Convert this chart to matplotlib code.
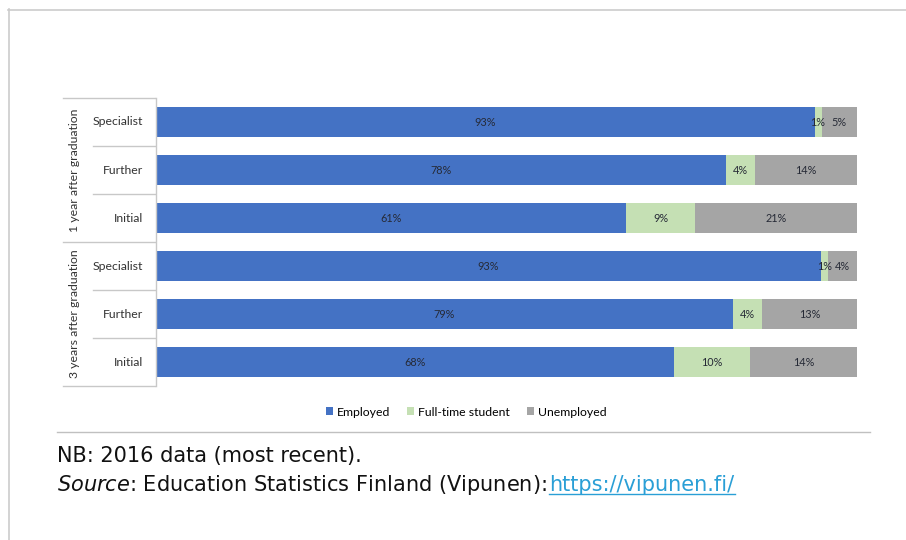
import numpy as np
import matplotlib.pyplot as plt
from matplotlib.lines import Line2D
from matplotlib.patches import Patch

# employment status of graduates, Finland 2016 (%), top row first
groups = ["1 year after graduation", "3 years after graduation"]
levels = ["Specialist", "Further", "Initial"]
employed = [93, 78, 61, 93, 79, 68]
student = [1, 4, 9, 1, 4, 10]
unemployed = [5, 14, 21, 4, 13, 14]

series = [("Employed", employed, "#4472C4"),
          ("Full-time student", student, "#C5E0B4"),
          ("Unemployed", unemployed, "#A5A5A5")]

W, H = 906, 540
fig = plt.figure(figsize=(W / 100, H / 100), dpi=100)

def fx(px):
    return px / W

def fy(py):
    return 1 - py / H

ax = fig.add_axes([fx(156), fy(386), fx(857) - fx(156), fy(98) - fy(386)])

n = len(employed)
ypos = np.arange(n)
totals = np.array(employed) + np.array(student) + np.array(unemployed)
left = np.zeros(n)
for name, vals, col in series:
    share = np.array(vals) / totals
    ax.barh(ypos, share, left=left, height=0.62, color=col, label=name)
    for y, l, s, v in zip(ypos, left, share, vals):
        ax.text(l + s / 2, y, f"{v}%", ha="center", va="center",
                fontsize=7.8, color="#262a36", family="Lato")
    left += share

ax.set_xlim(0, 1)
ax.set_ylim(n - 0.5, -0.5)
ax.set_xticks([])
ax.set_yticks([])
for s in ax.spines.values():
    s.set_visible(False)

# category table on the left
lc = "#c8c8c8"
fig.add_artist(Line2D([fx(155.5)] * 2, [fy(98), fy(386)], color=lc, lw=1))
fig.add_artist(Line2D([fx(63), fx(155)], [fy(98)] * 2, color=lc, lw=1))
fig.add_artist(Line2D([fx(63), fx(155)], [fy(242)] * 2, color=lc, lw=1))
fig.add_artist(Line2D([fx(63), fx(155)], [fy(386)] * 2, color=lc, lw=1))
for i in range(n):
    if i % 3 != 0:
        yb = 98 + 48 * i
        fig.add_artist(Line2D([fx(93), fx(155)], [fy(yb)] * 2, color=lc, lw=1))
    fig.text(fx(143), fy(122 + 48 * i), levels[i % 3], ha="right", va="center",
             fontsize=8.8, family="Lato", color="#333333")
for g, name in enumerate(groups):
    fig.text(fx(75), fy(170 + 144 * g), name, rotation=90, ha="center",
             va="center", fontsize=8.8, family="Lato", color="#333333")

handles = [Patch(facecolor=c, edgecolor="none") for _, _, c in series]
fig.legend(handles, [s[0] for s in series], loc="center",
           bbox_to_anchor=(fx(466), fy(412)), ncol=3, frameon=False,
           handlelength=0.6, handleheight=0.6, handletextpad=0.3,
           columnspacing=1.4, prop={"family": "Lato", "size": 8.8})

# page frame and separator
fig.add_artist(Line2D([fx(8), 1], [fy(9.5)] * 2, color="#cccccc", lw=1.2))
fig.add_artist(Line2D([fx(8.5)] * 2, [0, fy(9)], color="#cccccc", lw=1.2))
fig.add_artist(Line2D([fx(57), fx(870)], [fy(432)] * 2, color="#c0c0c0", lw=1))

fs = 15
fig.text(fx(57), fy(456), "NB: 2016 data (most recent).", fontsize=fs,
         va="center", color="#111111")
src = fig.text(fx(57), fy(485), r"$\it{Source}$: Education Statistics Finland (Vipunen): ",
               fontsize=fs, va="center", color="#111111")
fig.canvas.draw()
bb = src.get_window_extent()
link = fig.text(bb.x1 / W, fy(485), "https://vipunen.fi/", fontsize=fs,
                va="center", color="#2a9fd6")
fig.canvas.draw()
lb = link.get_window_extent()
fig.add_artist(Line2D([lb.x0 / W, lb.x1 / W], [(lb.y0 + 1) / H] * 2,
                      color="#2a9fd6", lw=1))

fig.savefig("out.png", dpi=100)
